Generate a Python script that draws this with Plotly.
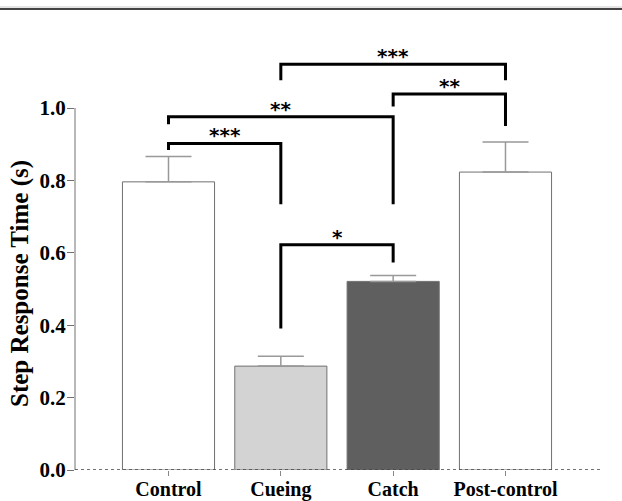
import plotly.graph_objects as go

categories = ["Control", "Cueing", "Catch", "Post-control"]
means = [0.796, 0.287, 0.521, 0.823]
errors = [0.070, 0.027, 0.016, 0.083]
fills = ["#ffffff", "#d3d3d3", "#5f5f5f", "#ffffff"]
yticks = [0.0, 0.2, 0.4, 0.6, 0.8, 1.0]
ytick_labels = ["0.0", "0.2", "0.4", "0.6", "0.8", "1.0"]

# brackets: (left index, right index, top y, left leg end, right leg end, label)
brackets = [
    (0, 1, 0.902, 0.884, 0.734, "***"),
    (0, 2, 0.976, 0.955, 0.734, "**"),
    (1, 3, 1.121, 1.077, 1.077, "***"),
    (2, 3, 1.039, 1.004, 0.950, "**"),
    (1, 2, 0.622, 0.391, 0.573, "*"),
]

W, H = 622, 501
L, R, T, B = 75, 22, 0, 31
plot_h = H - T - B
px_per_unit = 362.0
ymax = plot_h / px_per_unit
plot_w = W - L - R

xs = list(range(len(categories)))

fig = go.Figure()
fig.add_trace(go.Bar(
    x=xs, y=means, width=0.82,
    marker=dict(color=fills, line=dict(color="#707070", width=1)),
    error_y=dict(type="data", symmetric=False, array=errors,
                 arrayminus=[0] * len(errors), color="#999999",
                 thickness=1.5, width=23),
    showlegend=False, hoverinfo="skip",
))

for (i, j, yt, yl, yr, lab) in brackets:
    fig.add_trace(go.Scatter(
        x=[i, i, j, j], y=[yl, yt, yt, yr], mode="lines",
        line=dict(color="#000000", width=3), showlegend=False,
        hoverinfo="skip",
    ))
    fig.add_annotation(x=(i + j) / 2, y=yt, text=f"<b>{lab}</b>", showarrow=False,
                       yanchor="bottom", yshift=-6,
                       font=dict(family="DejaVu Sans", size=20, color="#000000"))

def px2paper_x(p):
    return (p - L) / plot_w
def px2paper_y(p):
    return 1 - (p - T) / plot_h

# y axis line from 0 to 1.0
fig.add_shape(type="line", xref="paper", yref="y", x0=0, x1=0, y0=0, y1=1.0,
              line=dict(color="#707070", width=1))
# dotted x axis line
fig.add_shape(type="line", xref="paper", yref="y", x0=0, x1=1, y0=0, y1=0,
              line=dict(color="#444444", width=1.5, dash="dot"))
# top rule
fig.add_shape(type="line", xref="paper", yref="paper",
              x0=px2paper_x(0), x1=px2paper_x(W), y0=px2paper_y(7), y1=px2paper_y(7),
              line=dict(color="#cccccc", width=1))
fig.add_shape(type="line", xref="paper", yref="paper",
              x0=px2paper_x(0), x1=px2paper_x(W), y0=px2paper_y(9), y1=px2paper_y(9),
              line=dict(color="#444444", width=2))

# y-axis title
fig.add_annotation(xref="paper", yref="paper", x=px2paper_x(20), y=px2paper_y(284),
                   text="<b>Step Response Time (s)</b>", textangle=-90,
                   showarrow=False, xanchor="center", yanchor="middle",
                   font=dict(family="Liberation Serif", size=25, color="#000"))

x0 = -(168.5 - L) / 112.33
x1 = (W - R - 168.5) / 112.33

fig.update_layout(
    width=W, height=H,
    margin=dict(l=L, r=R, t=T, b=B, autoexpand=False),
    paper_bgcolor="#ffffff", plot_bgcolor="#ffffff",
    font=dict(family="Liberation Serif", size=20, color="#000"),
    xaxis=dict(range=[x0, x1], tickvals=xs, ticktext=[f"<b>{c}</b>" for c in categories],
               showline=False, showgrid=False, zeroline=False,
               ticks="outside", ticklen=5, tickcolor="#888888", tickwidth=1,
               ticklabelstandoff=-4,
               tickfont=dict(family="Liberation Serif", size=20, color="#000"),
               automargin=False, fixedrange=True),
    yaxis=dict(range=[0, ymax], tickvals=yticks,
               ticktext=[f"<b>{t}</b>" for t in ytick_labels],
               showline=False, showgrid=False, zeroline=False,
               ticks="outside", ticklen=7, tickcolor="#707070", tickwidth=1,
               ticklabelstandoff=-3,
               tickfont=dict(family="Liberation Serif", size=21, color="#000"),
               automargin=False, fixedrange=True),
)

fig.write_html("out.html")
